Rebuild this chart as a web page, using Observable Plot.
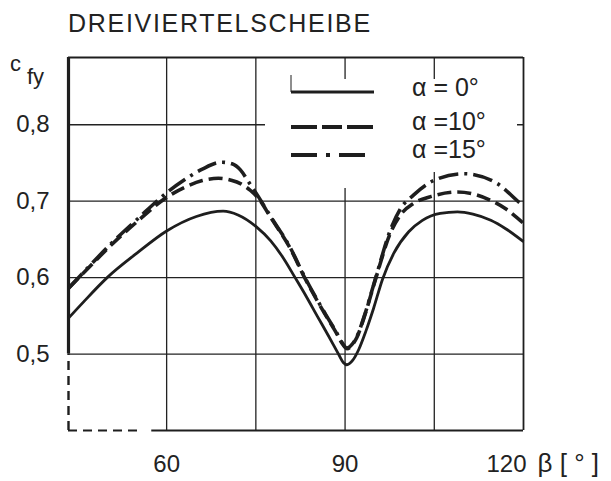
<!DOCTYPE html>
<html><head><meta charset="utf-8">
<script src="https://cdn.jsdelivr.net/npm/d3@7"></script>
<script src="https://cdn.jsdelivr.net/npm/@observablehq/plot@0.6"></script>
<style>
body{margin:0;background:#fff;}
#title{height:40px;line-height:46px;padding-left:68px;font-family:"Liberation Sans",Arial,sans-serif;font-size:25px;letter-spacing:1.7px;color:#222;white-space:nowrap;overflow:visible;}
</style></head><body>
<div id="title"></div>
<div id="chart"></div>
<script>
const title = "DREIVIERTELSCHEIBE";
const seriesNames = ["α = 0°", "α =10°", "α =15°"];

const beta0 = [43.5, 46, 50, 55, 60, 65, 69.5, 72, 75, 77.5, 79.5, 81.6, 83.5, 85.3, 87.2, 88.9, 89.7, 90.3, 91.3, 92.3, 93.5, 94.8, 96.3, 98.2, 100.7, 103, 106, 108.9, 111.5, 114.5, 117, 120];
const cfy0  = [0.547, 0.568, 0.600, 0.632, 0.661, 0.680, 0.687, 0.682, 0.667, 0.648, 0.627, 0.600, 0.575, 0.550, 0.524, 0.500, 0.489, 0.486, 0.492, 0.506, 0.530, 0.560, 0.598, 0.632, 0.660, 0.675, 0.684, 0.686, 0.683, 0.675, 0.664, 0.647];

const beta10 = [43.5, 47, 51, 55, 60, 63, 66, 68.7, 71, 72.4, 74.1, 75.5, 77.4, 80.8, 83.2, 86.8, 88.5, 89.5, 90.3, 91.2, 92, 93.2, 95.2, 97.6, 99.3, 101.5, 104.4, 108.9, 114.5, 117, 120];
const cfy10  = [0.586, 0.614, 0.645, 0.673, 0.705, 0.718, 0.727, 0.730, 0.727, 0.723, 0.714, 0.703, 0.680, 0.638, 0.600, 0.550, 0.528, 0.514, 0.507, 0.512, 0.522, 0.548, 0.600, 0.658, 0.682, 0.697, 0.706, 0.712, 0.701, 0.690, 0.671];

const beta15 = [43.5, 47, 51, 55, 60, 63, 66, 69.3, 71, 72.4, 73.8, 75.5, 77.4, 80.8, 83.2, 86.8, 88.5, 89.5, 90.3, 91.2, 92, 93.2, 95.2, 97.6, 99.3, 101.5, 104.9, 110, 115.6, 119.5, 120];
const cfy15  = [0.586, 0.615, 0.647, 0.676, 0.711, 0.728, 0.742, 0.751, 0.749, 0.741, 0.725, 0.705, 0.681, 0.639, 0.601, 0.551, 0.529, 0.515, 0.508, 0.513, 0.523, 0.549, 0.601, 0.662, 0.690, 0.708, 0.727, 0.736, 0.723, 0.697, 0.694];

const xDomain = [43.5, 120];
const yDomain = [0.4, 0.888];
const xTickLabels = [60, 90];
const xTickLast = [120];
const xGrid = [60, 75, 90, 105];
const yTicks = [0.5, 0.6, 0.7, 0.8];
const xLabel = "β [ ° ]";
const yLabelMain = "c";
const yLabelSub = "fy";
const frameBreakX = 57.5;
const frameBreakY = 0.5;

const ink = "#1e1e1e";
const dashes = [null, "14,6", "20,6,3,6"];
const widths = [2.8, 3.6, 3.6];

document.getElementById("title").textContent = title;

const seriesBeta = [beta0, beta10, beta15];
const seriesCfy = [cfy0, cfy10, cfy15];
const rows = [];
seriesBeta.forEach((bs, k) => bs.forEach((b, i) => rows.push({k, beta: b, cfy: seriesCfy[k][i]})));

const lineMarks = seriesNames.map((name, k) =>
  Plot.line(rows.filter(r => r.k === k), {
    x: "beta", y: "cfy", curve: "monotone-x",
    stroke: ink, strokeWidth: widths[k],
    strokeDasharray: dashes[k] || undefined, strokeLinecap: "butt"
  })
);

const fmt = d => d3.format(".1f")(d).replace(".", ",");

const plot = Plot.plot({
  width: 611, height: 441,
  marginLeft: 68, marginRight: 88, marginTop: 17, marginBottom: 51,
  x: {domain: xDomain},
  y: {domain: yDomain},
  style: {fontFamily: '"Liberation Sans", Arial, sans-serif', fontSize: "24px", color: "#222", background: "#fff"},
  marks: [
    Plot.gridX(xGrid, {stroke: "#222", strokeOpacity: 1, strokeWidth: 1.3}),
    Plot.gridY(yTicks, {stroke: "#222", strokeOpacity: 1, strokeWidth: 1.3}),
    Plot.ruleY([yDomain[1]], {x1: xDomain[0], x2: xDomain[1], stroke: ink, strokeWidth: 1.8}),
    Plot.ruleX([xDomain[1]], {y1: yDomain[0], y2: yDomain[1], stroke: ink, strokeWidth: 1.8}),
    Plot.ruleX([xDomain[0]], {y1: frameBreakY, y2: yDomain[1], stroke: ink, strokeWidth: 3.2}),
    Plot.ruleX([xDomain[0]], {y1: yDomain[0], y2: frameBreakY, stroke: ink, strokeWidth: 2.4, strokeDasharray: "9,6"}),
    Plot.ruleY([yDomain[0]], {x1: frameBreakX, x2: xDomain[1], stroke: ink, strokeWidth: 2.2}),
    Plot.ruleY([yDomain[0]], {x1: xDomain[0], x2: frameBreakX - 1.5, stroke: ink, strokeWidth: 2.2, strokeDasharray: "9,6"}),
    Plot.axisY(yTicks, {tickSize: 0, tickPadding: 19, tickFormat: fmt, label: null}),
    Plot.axisX(xTickLabels, {tickSize: 0, tickPadding: 24, label: null}),
    Plot.axisX(xTickLast, {tickSize: 0, tickPadding: 24, label: null, dx: -17}),
    Plot.text([xLabel], {frameAnchor: "bottom-right", textAnchor: "start", lineAnchor: "top", dx: 14, dy: 23, fontSize: 26, fill: "#222"}),
    ...lineMarks
  ]
});

// legend and axis label overlay (positioned relative to the frame)
const L = 68, T = 17;
const svg = d3.select(plot);
const firstLine = plot.querySelector('g[aria-label="line"]');
const g = d3.create("svg:g").attr("text-anchor", "start");
g.append("rect").attr("x", L + 197).attr("y", T + 22).attr("width", 252).attr("height", 93).attr("fill", "#fff");
g.append("rect").attr("x", L + 262).attr("y", T + 22).attr("width", 34).attr("height", 109).attr("fill", "#fff");
g.append("line").attr("x1", L + 223).attr("x2", L + 223).attr("y1", T + 18).attr("y2", T + 35).attr("stroke", ink).attr("stroke-width", 1);
const legY = [35, 70, 98];
const legTextY = [39, 73, 101];
seriesNames.forEach((name, k) => {
  g.append("line")
    .attr("x1", L + 223).attr("x2", L + 306)
    .attr("y1", T + legY[k]).attr("y2", T + legY[k])
    .attr("stroke", ink).attr("stroke-width", widths[k] + 0.4)
    .attr("stroke-dasharray", k === 0 ? null : (k === 1 ? "26,5,20,5" : "26,9,4,9"));
  g.append("text")
    .attr("x", L + 344).attr("y", T + legTextY[k])
    .attr("font-size", 25).attr("fill", "#222")
    .style("white-space", "pre")
    .text(name);
});
plot.insertBefore(g.node(), firstLine);

const lab = svg.append("g").attr("fill", "#222").attr("text-anchor", "start");
lab.append("text").attr("x", L - 58).attr("y", T + 14).attr("font-size", 22).text(yLabelMain);
lab.append("text").attr("x", L - 41).attr("y", T + 27).attr("font-size", 22).text(yLabelSub);

document.getElementById("chart").append(plot);
</script>
</body></html>
